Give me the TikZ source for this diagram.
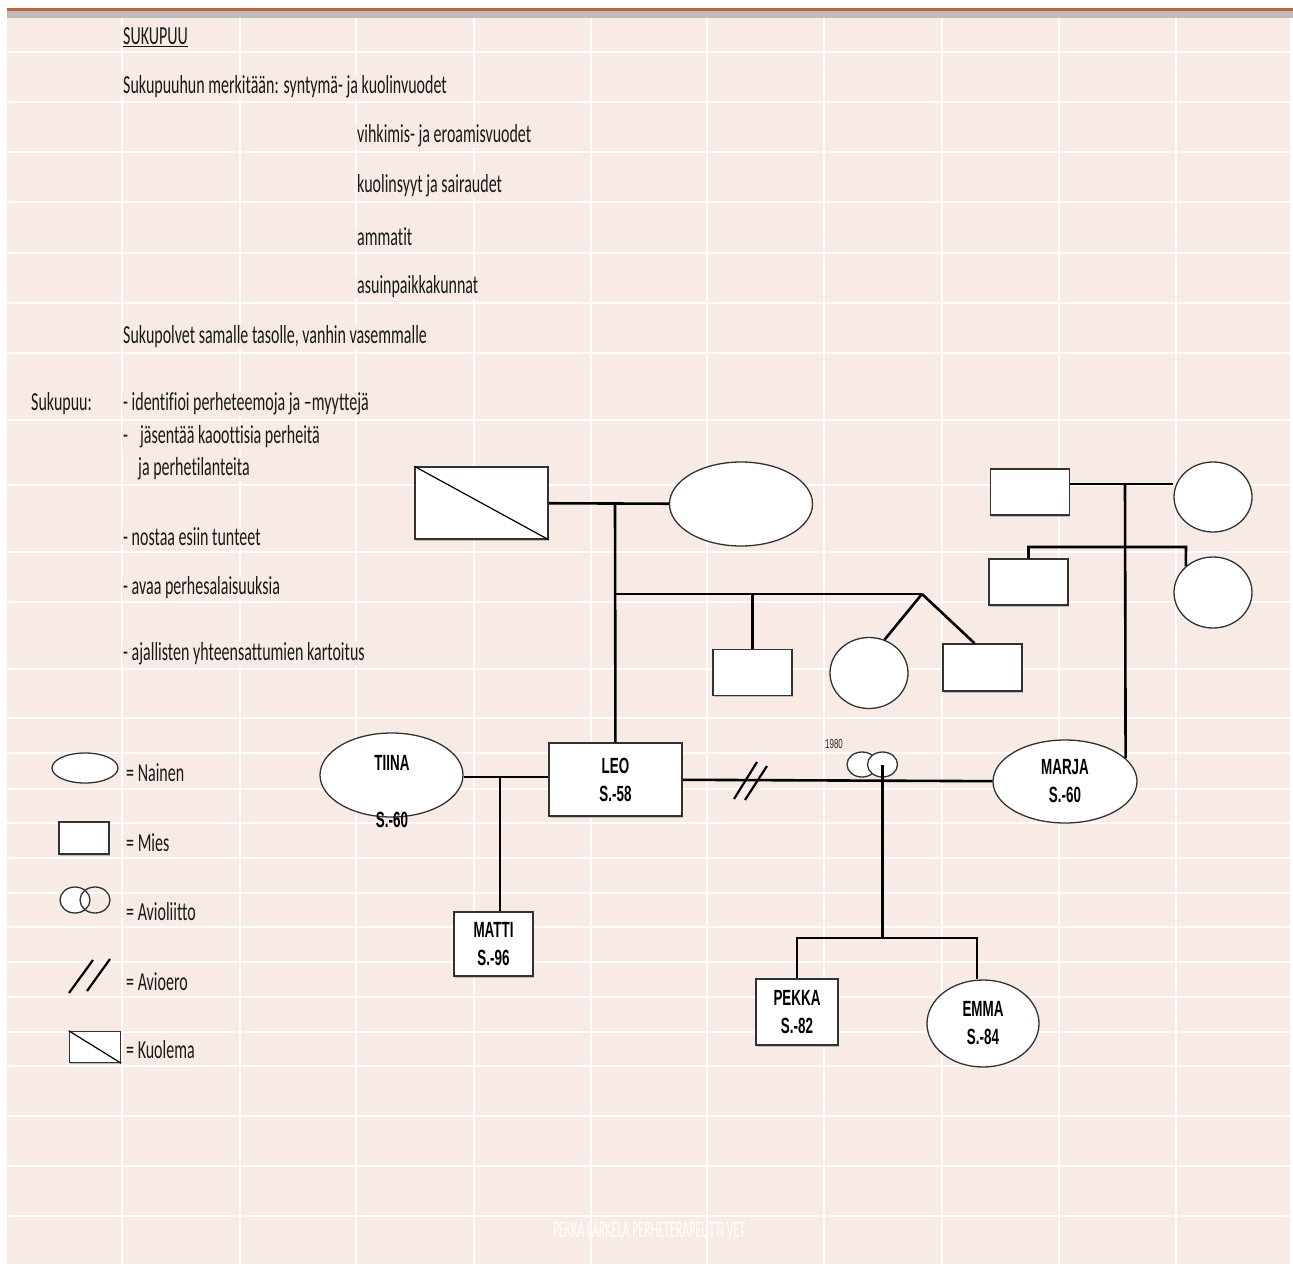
\documentclass[tikz,border=0pt]{standalone}
\usepackage{fontspec}
\setmainfont{Carlito}
\newfontfamily\listfont[FakeStretch=0.615, Ligatures=NoCommon]{Carlito}
\newfontfamily\namefont[FakeStretch=0.61]{Liberation Sans}
\newfontfamily\footfont[FakeStretch=0.5, Ligatures=NoCommon]{Carlito}
\usetikzlibrary{shapes.geometric,shadows}
\definecolor{cellpink}{RGB}{248,235,229}
\definecolor{barorange}{RGB}{196,100,62}
\definecolor{bargrey}{RGB}{188,188,188}
\definecolor{ink}{RGB}{25,25,25}
\definecolor{edge}{RGB}{50,50,50}

\begin{document}
\begin{tikzpicture}[x=1pt, y=-1pt,
  txt/.style={anchor=west, inner sep=1pt, fill=cellpink, text=ink,
    font=\listfont\fontsize{26}{30}\selectfont},
  mies/.style={rectangle, draw=edge, line width=1.5pt, fill=white, inner sep=0pt,
    drop shadow={shadow xshift=0.8pt, shadow yshift=-1.6pt, fill=black!45}},
  nainen/.style={ellipse, draw=edge, line width=1.3pt, fill=white, inner sep=0pt},
  nimi/.style={font=\namefont\bfseries\fontsize{22}{28}\selectfont, align=center, text=black},
  suku/.style={line width=2.6pt},
  ero/.style={line width=2.2pt}]
  \useasboundingbox (0,0) rectangle (1293,1268);
  \fill[barorange] (7,8) rectangle (1293,11);
  \fill[bargrey] (7,11) rectangle (1293,18);
  \fill[cellpink] (7,18) rectangle (1290,1266);
  \foreach \y in {52,102,152,202,253,303,353,420,485,552,602,669,718,753,789,823,858,893,927,962,997,1032,1066,1116,1166,1216,1265}
    \draw[white, line width=2pt] (7,\y) -- (1290,\y);
  \foreach \x in {122,240,356,474,591,707,824,942,1059,1176}
    \draw[white, line width=1.6pt] (\x,18) -- (\x,1265);

  \node[txt] (T0) at (122,37) {\underline{SUKUPUU}};
  \node[txt] (T1) at (122,87) {Sukupuuhun merkitään: syntymä- ja kuolinvuodet};
  \node[txt] (T2) at (356,136) {vihkimis- ja eroamisvuodet};
  \node[txt] (T3) at (356,186) {kuolinsyyt ja sairaudet};
  \node[txt] (T4) at (356,237) {ammatit};
  \node[txt] (T5) at (356,287) {asuinpaikkakunnat};
  \node[txt] (T6) at (122,337) {Sukupolvet samalle tasolle, vanhin vasemmalle};
  \node[txt] (S0) at (30,404) {Sukupuu:};
  \node[txt] (S1) at (122,404) {- identifioi perheteemoja ja –myyttejä};
  \node[txt] (S2) at (122,437) {-\hspace{12pt}jäsentää kaoottisia perheitä};
  \node[txt] (S3) at (137,469) {ja perhetilanteita};
  \node[txt] (S4) at (122,537) {- nostaa esiin tunteet};
  \node[txt] (S5) at (122,588) {- avaa perhesalaisuuksia};
  \node[txt] (S6) at (122,654) {- ajallisten yhteensattumien kartoitus};

  \node[nainen, minimum width=66, minimum height=30] (LA) at (85,768) {};
  \node[txt] (LAt) at (125,773) {= Nainen};
  \node[mies, minimum width=50, minimum height=32] (LB) at (84,838) {};
  \node[txt] (LBt) at (125,843) {= Mies};
  \node[nainen, minimum width=30, minimum height=26] (LC) at (75,900) {};
  \node[nainen, minimum width=30, minimum height=26, fill=none] (LD) at (95,900) {};
  \node[txt] (LCt) at (125,912) {= Avioliitto};
  \draw[ero] (69,993) -- (93,960) (87,991) -- (110,959);
  \node[txt] (LDt) at (125,982) {= Avioero};
  \node[mies, minimum width=51, minimum height=31] (LE) at (95,1047) {};
  \draw[line width=1.2pt] (LE.north west) -- (LE.south east);
  \node[txt] (LEt) at (125,1050) {= Kuolema};

  \node[mies, minimum width=133, minimum height=72] (AA) at (481.5,503) {};
  \node[nainen, minimum width=143, minimum height=84] (AB) at (741,504) {};
  \node[mies, minimum width=79, minimum height=46] (AC) at (1030,492) {};
  \node[nainen, minimum width=78, minimum height=70] (AD) at (1213,497) {};
  \node[mies, minimum width=79, minimum height=46] (BA) at (752.5,672.5) {};
  \node[nainen, minimum width=78, minimum height=71] (BB) at (869,673) {};
  \node[mies, minimum width=79, minimum height=47] (BC) at (982.5,667.5) {};
  \node[mies, minimum width=79, minimum height=46] (BD) at (1028.5,582) {};
  \node[nainen, minimum width=78, minimum height=71] (BE) at (1213,592.5) {};
  \node[nainen, minimum width=143, minimum height=84] (CA) at (391.5,775) {};
  \node[mies, nimi, minimum width=133, minimum height=73] (CB) at (615.5,779.5) {LEO\\S.-58};
  \node[nainen, nimi, minimum width=144, minimum height=83] (CC) at (1065,781.5) {MARJA\\S.-60};
  \node[mies, nimi, minimum width=79, minimum height=64] (DA) at (493.5,944) {MATTI\\S.-96};
  \node[mies, nimi, minimum width=82, minimum height=66] (DB) at (797,1012) {PEKKA\\S.-82};
  \node[nainen, nimi, minimum width=112, minimum height=87] (DC) at (983,1023.5) {EMMA\\S.-84};
  \node[nimi] (CAa) at (392,763) {TIINA};
  \node[nimi] (CAb) at (392,820) {S.-60};
  \draw[line width=1.2pt] (AA.north west) -- (AA.south east);

  \coordinate (jA) at (615,504);
  \coordinate (sA) at (615,594);
  \coordinate (jB) at (922,594);
  \coordinate (jC) at (1125,484);
  \coordinate (sC) at (1186,547);
  \coordinate (mA) at (500,777);
  \coordinate (kA) at (882,938);
  \draw[suku] (AA) -- (AB);
  \draw[suku] (jA) -- (CB);
  \draw[suku] (sA) -- (jB);
  \draw[suku] (BA.north |- sA) -- (BA);
  \draw[suku] (jB) -- (BB.65);
  \draw[suku] (jB) -- ([xshift=-8pt]BC.north);
  \draw[suku] (AC.east |- jC) -- (AD.west |- jC);
  \draw[suku] (jC) -- (CC.21);
  \draw[suku] (BD.north) |- (sC) -- (BE.136);
  \draw[suku] (CA.east |- mA) -- (CB.west |- mA);
  \draw[suku] (mA) -- (mA |- DA.north);
  \draw[suku] (CB) -- (CC);
  \draw[ero] (734,799) -- (757,762) (745,800) -- (767,766);
  \node[nainen, minimum width=30, minimum height=25] (VA) at (862,764.5) {};
  \node[nainen, minimum width=30, minimum height=25] (VB) at (882.5,764.5) {};
  \node[font=\namefont\fontsize{13}{15}\selectfont, text=black!85] (vuosi) at (834,744) {1980};
  \draw[suku] (VB.center) -- (VB.center |- kA);
  \draw[suku] (DB.north) |- (kA) -| ([xshift=-6pt]DC.north);

  \node[font=\footfont\fontsize{24}{26}\selectfont, text=white] (alaviite) at (649,1230) {PEKKA LARKELA PERHETERAPEUTTI VET};
\end{tikzpicture}
\end{document}
